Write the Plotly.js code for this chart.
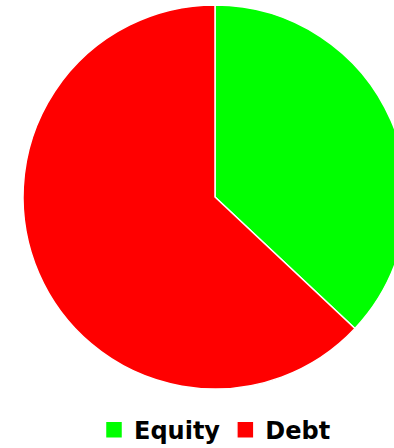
<!DOCTYPE html>
<html>
<head>
<meta charset="utf-8">
<script src="https://cdn.plot.ly/plotly-3.0.1.min.js"></script>
<style>
html, body { margin: 0; padding: 0; overflow: hidden; background: #fff; }
#chart { width: 430px; height: 448px; }
</style>
</head>
<body>
<div id="chart"></div>
<script>
const labels = ["Equity", "Debt"];
const values = [37, 63];
const colors = ["#00ff00", "#ff0000"];

Plotly.newPlot("chart", [{
  type: "pie",
  labels: labels,
  values: values,
  marker: { colors: colors, line: { color: "#ffffff", width: 1.5 } },
  sort: false,
  direction: "clockwise",
  rotation: 0,
  textinfo: "none",
  hoverinfo: "label+percent"
}], {
  width: 430,
  height: 448,
  margin: { l: 23, r: 23, t: 5, b: 59, autoexpand: false },
  paper_bgcolor: "#ffffff",
  showlegend: true,
  legend: {
    orientation: "h",
    x: 0.5, xanchor: "center",
    y: -0.107, yanchor: "middle",
    font: { family: "DejaVu Sans, sans-serif", size: 24, weight: "bold", color: "#000" }
  }
}, { displayModeBar: false, staticPlot: true }).then(function () {
  document.querySelectorAll("#chart .legendpoints path").forEach(function (p) {
    p.setAttribute("d", "M8.5,8.5H-8.5V-8.5H8.5Z");
  });
});
</script>
</body>
</html>
